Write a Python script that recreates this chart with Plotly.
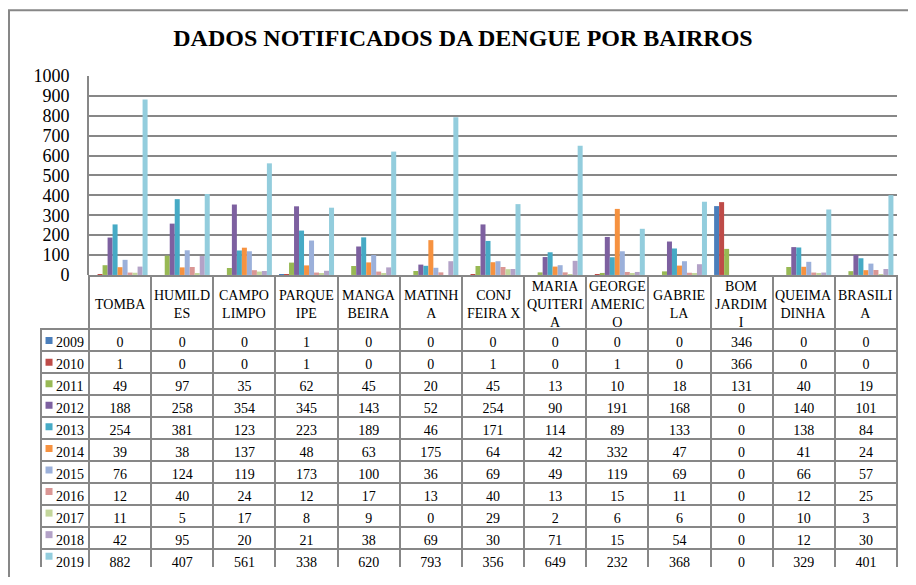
import plotly.graph_objects as go

# ---------------- data ----------------
bairros = ["TOMBA", "HUMILD<br>ES", "CAMPO<br>LIMPO", "PARQUE<br>IPE", "MANGA<br>BEIRA",
           "MATINH<br>A", "CONJ<br>FEIRA X", "MARIA<br>QUITERI<br>A", "GEORGE<br>AMERIC<br>O",
           "GABRIE<br>LA", "BOM<br>JARDIM<br>I", "QUEIMA<br>DINHA", "BRASILI<br>A"]

anos = ["2009", "2010", "2011", "2012", "2013", "2014", "2015", "2016", "2017", "2018", "2019"]

v2009 = [0, 0, 0, 1, 0, 0, 0, 0, 0, 0, 346, 0, 0]
v2010 = [1, 0, 0, 1, 0, 0, 1, 0, 1, 0, 366, 0, 0]
v2011 = [49, 97, 35, 62, 45, 20, 45, 13, 10, 18, 131, 40, 19]
v2012 = [188, 258, 354, 345, 143, 52, 254, 90, 191, 168, 0, 140, 101]
v2013 = [254, 381, 123, 223, 189, 46, 171, 114, 89, 133, 0, 138, 84]
v2014 = [39, 38, 137, 48, 63, 175, 64, 42, 332, 47, 0, 41, 24]
v2015 = [76, 124, 119, 173, 100, 36, 69, 49, 119, 69, 0, 66, 57]
v2016 = [12, 40, 24, 12, 17, 13, 40, 13, 15, 11, 0, 12, 25]
v2017 = [11, 5, 17, 8, 9, 0, 29, 2, 6, 6, 0, 10, 3]
v2018 = [42, 95, 20, 21, 38, 69, 30, 71, 15, 54, 0, 12, 30]
v2019 = [882, 407, 561, 338, 620, 793, 356, 649, 232, 368, 0, 329, 401]

series = [v2009, v2010, v2011, v2012, v2013, v2014, v2015, v2016, v2017, v2018, v2019]

y_ticks = [0, 100, 200, 300, 400, 500, 600, 700, 800, 900, 1000]

cores = ["#4A7EBB", "#BE4B48", "#98B954", "#7D60A0", "#46AAC5", "#F69240",
         "#9BB0DA", "#DA9694", "#C3D69B", "#B3A2C7", "#93CDDD"]

# ---------------- layout constants ----------------
# The page body has an 8px margin; the figure is sized so that the page
# exactly fills the 916x585 window. Targets are in screenshot pixels.
OFF = 8
W, H = 916 - 2 * OFF, 585 - 2 * OFF
X_TABLE_L, X_PLOT_L, X_PLOT_R = 41, 89, 897
Y_PLOT_T, Y_PLOT_B, Y_TABLE_T = 76, 279, 280
HEADER_H = 53
ROW_H = 22
Y_ROWS_T = Y_TABLE_T + HEADER_H
Y_ROWS_B = Y_ROWS_T + ROW_H * len(anos)

ML = X_TABLE_L - OFF
MR = W - (X_PLOT_R - OFF)
MT = Y_PLOT_T - OFF
MB = 0
PW = W - ML - MR
PH = H - MT - MB
LEG_COL = X_PLOT_L - X_TABLE_L
CAT_W = (X_PLOT_R - X_PLOT_L) / len(bairros)


def py(ypx):
    return (H - MB - (ypx - OFF)) / PH


def pxf(xpx):
    return ((xpx - OFF) - ML) / PW


GRID = "#878787"
FONT = "Liberation Serif, Times New Roman, serif"
CLEAR = "rgba(0,0,0,0)"

fig = go.Figure()

for ano, vals, cor in zip(anos, series, cores):
    fig.add_trace(go.Bar(x=bairros, y=vals, name=ano, marker_color=cor,
                         marker_line_width=0, showlegend=False,
                         xaxis="x", yaxis="y"))

# legend keys: small squares in the first table column, one per series row
fig.add_trace(go.Scatter(x=[0] * len(anos), y=anos, mode="markers",
                         marker=dict(symbol="square", size=7, color=cores,
                                     line=dict(width=0)),
                         showlegend=False, hoverinfo="skip",
                         xaxis="x2", yaxis="y2"))

# ---------------- data table ----------------
cols = [["\u00a0\u00a0" + a for a in anos]]
for i in range(len(bairros)):
    cols.append([str(s[i]) for s in series])

fig.add_trace(go.Table(
    domain=dict(x=[0, 1], y=[0, py(Y_TABLE_T)]),
    columnwidth=[LEG_COL] + [CAT_W] * len(bairros),
    header=dict(values=[""] * (len(bairros) + 1), height=HEADER_H,
                fill_color=CLEAR,
                line=dict(color=[CLEAR] + [GRID] * len(bairros), width=2)),
    cells=dict(values=cols, height=ROW_H,
               align=["left"] + ["center"] * len(bairros),
               fill_color=CLEAR,
               line=dict(color=GRID, width=2),
               font=dict(family=FONT, size=14, color="black")),
))

# header labels (category names), vertically centred in the header row
for b in bairros:
    fig.add_annotation(x=b, xref="x", y=py(Y_TABLE_T + HEADER_H / 2 + 3), yref="paper",
                       text=b, showarrow=False, xanchor="center", yanchor="middle",
                       font=dict(family=FONT, size=14, color="black"))

# outer chart frame
fig.add_shape(type="rect", xref="paper", yref="paper",
              x0=pxf(OFF + 1), x1=1.2, y0=-0.2, y1=py(OFF + 1),
              line=dict(color=GRID, width=2), fillcolor=CLEAR, layer="below")

fig.update_layout(
    width=W, height=H,
    margin=dict(l=ML, r=MR, t=MT, b=MB),
    paper_bgcolor="white", plot_bgcolor="white",
    barmode="group", bargap=0.115, bargroupgap=0,
    title=dict(text="<b>DADOS NOTIFICADOS DA DENGUE POR BAIRROS</b>",
               x=(463 - OFF) / W, xanchor="center", y=1 - (38 - OFF) / H, yanchor="middle",
               font=dict(family=FONT, size=24, color="black")),
    xaxis=dict(domain=[pxf(X_PLOT_L), 1], showticklabels=False, showgrid=False,
               zeroline=False, showline=False, ticks=""),
    yaxis=dict(domain=[py(Y_PLOT_B), 1], range=[0, 1000], tickvals=y_ticks,
               showgrid=True, gridcolor=GRID, gridwidth=2, zeroline=False,
               showline=True, linecolor=GRID, linewidth=2, ticks="",
               ticklabelstandoff=14,
               tickfont=dict(family=FONT, size=18, color="black")),
    xaxis2=dict(domain=[pxf(X_TABLE_L), pxf(X_PLOT_L)], range=[-1.07, 5.33], visible=False,
                fixedrange=True),
    yaxis2=dict(domain=[py(Y_ROWS_B + 2), py(Y_ROWS_T + 2)], visible=False,
                type="category", categoryorder="array", categoryarray=anos[::-1],
                range=[-0.5, len(anos) - 0.5], fixedrange=True),
    font=dict(family=FONT),
)

fig.write_html("out.html")
